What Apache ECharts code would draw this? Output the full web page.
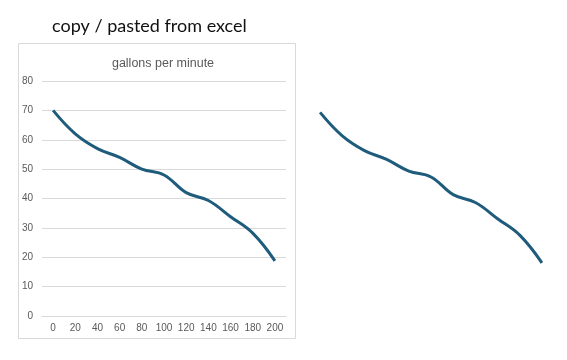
<!DOCTYPE html>
<html>
<head>
<meta charset="utf-8">
<script src="https://cdn.jsdelivr.net/npm/echarts@6/dist/echarts.min.js"></script>
<style>
  html, body { margin: 0; padding: 0; background: #fff; }
  #chart { width: 567px; height: 360px; }
</style>
</head>
<body>
<div id="chart"></div>
<script>
// data
const minutes = ['0', '20', '40', '60', '80', '100', '120', '140', '160', '180', '200']
const gallons = [70, 62, 57, 54, 50, 48, 42, 39.3, 33.8, 28.2, 18.8]
const yTicks = { min: 0, max: 80, interval: 10 }

const lineColor = '#1f5b7b'
const labelColor = '#595959'
const gridColor = '#d9d9d9'

const lineSeries = (idx) => ({
  type: 'line',
  xAxisIndex: idx,
  yAxisIndex: idx,
  data: gallons,
  smooth: 0.4,
  symbol: 'none',
  lineStyle: { color: lineColor, width: 3 }
})

const myChart = echarts.init(document.getElementById('chart'))
myChart.setOption({
  animation: false,
  title: [
    {
      text: 'copy / pasted from excel',
      left: 47,
      top: 12,
      textStyle: { fontFamily: 'Lato', fontSize: 18, fontWeight: 'normal', color: '#111' }
    },
    {
      text: 'gallons per minute',
      left: 158,
      top: 52,
      textAlign: 'center',
      textStyle: { fontFamily: 'Liberation Sans', fontSize: 12.5, fontWeight: 'normal', color: labelColor }
    }
  ],
  graphic: [
    {
      type: 'rect',
      shape: { x: 18.5, y: 43.5, width: 277, height: 295 },
      style: { fill: 'none', stroke: gridColor, lineWidth: 1 },
      z: -1
    }
  ],
  grid: [
    { left: 42, top: 81, width: 244, height: 235 },
    { left: 309, top: 83, width: 244, height: 235 }
  ],
  xAxis: [
    {
      gridIndex: 0,
      type: 'category',
      data: minutes,
      boundaryGap: true,
      axisLine: { lineStyle: { color: gridColor } },
      axisTick: { show: false },
      axisLabel: { color: labelColor, fontSize: 10, fontFamily: 'Liberation Sans', margin: 7 }
    },
    {
      gridIndex: 1,
      type: 'category',
      data: minutes,
      boundaryGap: true,
      show: false
    }
  ],
  yAxis: [
    {
      gridIndex: 0,
      type: 'value',
      min: yTicks.min,
      max: yTicks.max,
      interval: yTicks.interval,
      axisLine: { show: false },
      axisTick: { show: false },
      splitLine: { lineStyle: { color: gridColor } },
      axisLabel: { color: labelColor, fontSize: 10, fontFamily: 'Liberation Sans', margin: 9 }
    },
    {
      gridIndex: 1,
      type: 'value',
      min: yTicks.min,
      max: yTicks.max,
      interval: yTicks.interval,
      show: false
    }
  ],
  series: [lineSeries(0), lineSeries(1)]
})
</script>
</body>
</html>
